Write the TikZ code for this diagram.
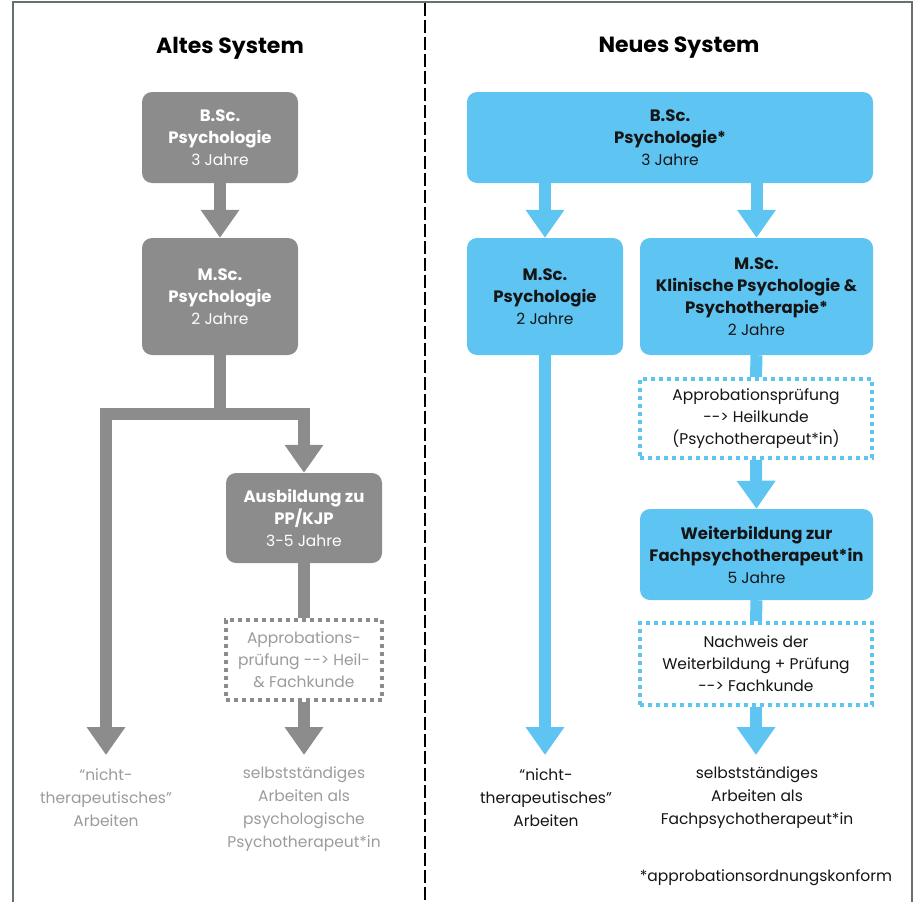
\documentclass[tikz,border=0pt]{standalone}
\usepackage{fontspec}
\setmainfont{Poppins}
\usetikzlibrary{arrows.meta,backgrounds}
\definecolor{boxgray}{HTML}{8C8C8C}
\definecolor{txtgray}{HTML}{9B9B9B}
\definecolor{boxblue}{HTML}{5EC5F3}
\definecolor{framegray}{HTML}{667070}
\definecolor{ink}{HTML}{151515}
\newcommand\boxbold[1]{{\fontsize{16.5}{22}\selectfont\bfseries #1}}
\newcommand\darr{{-}{-}>}
\begin{document}
\begin{tikzpicture}[x=1pt,y=-1pt,
  box/.style={rounded corners=10pt, inner sep=0pt, align=center,
    font=\fontsize{15.5}{22}\selectfont},
  graybox/.style={box, fill=boxgray, text=white},
  bluebox/.style={box, fill=boxblue, text=ink},
  dotbox/.style={inner sep=0pt, align=center, fill=white, line width=4pt,
    dash pattern=on 4pt off 4pt, font=\fontsize{15.5}{22}\selectfont},
  title/.style={font=\bfseries\fontsize{22}{26}\selectfont, text=black},
  endtxt/.style={align=center, font=\fontsize{15.5}{23}\selectfont},
  conn/.style={line width=12pt},
  arr/.style={conn, -{Triangle[width=37pt,length=28pt]}},
]
\useasboundingbox (0,0) rectangle (916,902);
% frame and divider
\draw[framegray, line width=2pt] (12.5,902) -- (12.5,1.5) -- (912,1.5) -- (912,902);
\draw[black, line width=2.5pt, dash pattern=on 13pt off 4pt] (425,3) -- (425,902);

% titles
\node[title] (t1) at (230,48) {Altes System};
\node[title] (t2) at (679,48) {Neues System};

% ---------- old system ----------
\node[graybox, minimum width=156pt, minimum height=91pt] (gb) at (220,137.5)
  {\boxbold{B.Sc.}\\\boxbold{Psychologie}\\3 Jahre};
\node[graybox, minimum width=156pt, minimum height=117pt] (gm) at (220,296.5)
  {\boxbold{M.Sc.}\\\boxbold{Psychologie}\\2 Jahre};
\node[graybox, minimum width=156pt, minimum height=90pt] (ga) at (304,518)
  {\boxbold{Ausbildung zu}\\\boxbold{PP/KJP}\\3-5 Jahre};
\node[dotbox, draw=boxgray, text=txtgray, minimum width=156pt, minimum height=80pt] (gd) at (304,660)
  {Approbations-\\prüfung \darr{} Heil-\\\& Fachkunde};
\node[endtxt, text=txtgray] (gt1) at (106,798) {“nicht-\\therapeutisches”\\Arbeiten};
\node[endtxt, text=txtgray] (gt2) at (304,809) {selbstständiges\\Arbeiten als\\psychologische\\Psychotherapeut*in};
\coordinate (gj) at (220,413.5);
\coordinate (ge1) at (106,755);
\coordinate (ge2) at (304,755);

% ---------- new system ----------
\node[bluebox, minimum width=406pt, minimum height=91pt] (bb) at (670,137.5)
  {\boxbold{B.Sc.}\\\boxbold{Psychologie*}\\3 Jahre};
\node[bluebox, minimum width=156pt, minimum height=117pt] (bm1) at (545,296.5)
  {\boxbold{M.Sc.}\\\boxbold{Psychologie}\\2 Jahre};
\node[bluebox, minimum width=233pt, minimum height=117pt] (bm2) at (756.5,296.5)
  {\boxbold{M.Sc.}\\\boxbold{Klinische Psychologie \&}\\\boxbold{Psychotherapie*}\\2 Jahre};
\node[dotbox, draw=boxblue, text=ink, minimum width=232pt, minimum height=79pt] (bd1) at (756,418.5)
  {Approbationsprüfung\\\darr{} Heilkunde\\(Psychotherapeut*in)};
\node[bluebox, minimum width=233pt, minimum height=91pt] (bw) at (756.5,554.5)
  {\boxbold{Weiterbildung zur}\\\boxbold{Fachpsychotherapeut*in}\\5 Jahre};
\node[dotbox, draw=boxblue, text=ink, minimum width=232pt, minimum height=82pt] (bd2) at (756,664)
  {Nachweis der\\Weiterbildung + Prüfung\\\darr{} Fachkunde};
\node[endtxt, text=ink] (bt1) at (546,798) {“nicht-\\therapeutisches”\\Arbeiten};
\node[endtxt, text=ink] (bt2) at (757,798) {selbstständiges\\Arbeiten als\\Fachpsychotherapeut*in};
\node[font=\fontsize{15.5}{20}\selectfont, text=ink] (foot) at (766,878) {*approbationsordnungskonform};
\coordinate (be1) at (545,755);
\coordinate (be2) at (756,755);

\begin{scope}[on background layer]
\begin{scope}[boxgray]
\draw[arr] (gb.south) -- (gm.north);
\draw[conn] (gm.south) -- (gj);
\draw[conn, line cap=rect] (ge1 |- gj) -- (ga.north |- gj);
\draw[arr] (ge1 |- gj) -- (ge1);
\draw[arr] (ga.north |- gj) -- (ga.north);
\draw[conn] (ga.south) -- (gd.north);
\draw[arr] (gd.south) -- (ge2);
\end{scope}
\begin{scope}[boxblue]
\draw[arr] (bb.south -| bm1.north) -- (bm1.north);
\draw[arr] (bb.south -| bm2.north) -- (bm2.north);
\draw[arr] (bm1.south) -- (be1);
\draw[conn] (bm2.south) -- (bd1.north);
\draw[arr] (bd1.south) -- (bw.north);
\draw[conn] (bw.south) -- (bd2.north);
\draw[arr] (bd2.south) -- (be2);
\end{scope}
\end{scope}
\end{tikzpicture}
\end{document}
